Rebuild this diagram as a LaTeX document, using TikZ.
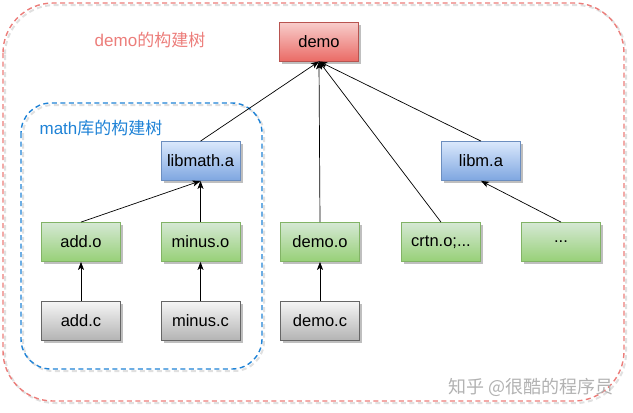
\documentclass[tikz,border=0pt]{standalone}
\usepackage{fontspec}
\setmainfont{Liberation Sans}
\newfontfamily\cjk{Noto Sans CJK SC}
\usetikzlibrary{arrows.meta,shadows}
\definecolor{redfillT}{HTML}{F8CECC}
\definecolor{redfillB}{HTML}{EA6B66}
\definecolor{redline}{HTML}{B85450}
\definecolor{bluefillT}{HTML}{DAE8FC}
\definecolor{bluefillB}{HTML}{7EA6E0}
\definecolor{blueline}{HTML}{6C8EBF}
\definecolor{greenfillT}{HTML}{D5E8D4}
\definecolor{greenfillB}{HTML}{97D077}
\definecolor{greenline}{HTML}{82B366}
\definecolor{grayfillT}{HTML}{F5F5F5}
\definecolor{grayfillB}{HTML}{B3B3B3}
\definecolor{grayline}{HTML}{666666}
\definecolor{reddash}{HTML}{EC7D7A}
\definecolor{bluedash}{HTML}{1E82D6}
\tikzset{
  box/.style={draw, line width=0.8pt, minimum width=79pt, minimum height=39pt, inner sep=0pt,
    font=\fontsize{16.5}{19}\selectfont,
    drop shadow={shadow xshift=2.5pt, shadow yshift=-2.5pt, opacity=0.25, fill=black}},
  redbox/.style={box, draw=redline, top color=redfillT, bottom color=redfillB},
  bluebox/.style={box, draw=blueline, top color=bluefillT, bottom color=bluefillB},
  greenbox/.style={box, draw=greenline, top color=greenfillT, bottom color=greenfillB},
  graybox/.style={box, draw=grayline, top color=grayfillT, bottom color=grayfillB},
  conn/.style={line width=0.7pt, -{Stealth[length=8pt, width=6pt, inset=2pt]}},
  grp/.style={dash pattern=on 5pt off 3.5pt, line width=1.4pt},
  grpshadow/.style={grp, draw=black, opacity=0.12, line width=2pt},
  grplabel/.style={font=\fontsize{17}{20}\selectfont, inner sep=0pt}
}
\begin{document}
\begin{tikzpicture}[x=1pt, y=-1pt]
\useasboundingbox (0,0) rectangle (633,413);
\draw[grpshadow, rounded corners=50pt] (5,5) rectangle (626,403);
\draw[grp, draw=reddash, rounded corners=50pt] (3,3) rectangle (624,401);
\draw[grpshadow, rounded corners=30pt] (23,105) rectangle (264,371);
\draw[grp, draw=bluedash, rounded corners=30pt] (21,103) rectangle (262,369);
\node[grplabel, text=reddash] (lblDemo) at (150,40) {demo\cjk 的构建树};
\node[grplabel, text=bluedash] (lblMath) at (101,128) {math\cjk 库的构建树};

\node[redbox] (demo) at (319,41.5) {demo};
\node[bluebox] (libmath) at (200.5,161) {libmath.a};
\node[bluebox] (libm) at (481,161) {libm.a};

\node[greenbox] (addo) at (81,242) {add.o};
\node[greenbox] (minuso) at (200.5,242) {minus.o};
\node[greenbox] (demoo) at (320,242) {demo.o};
\node[greenbox] (crtno) at (441,242) {crtn.o;...};
\node[greenbox] (dots) at (561,242) {...};

\node[graybox] (addc) at (81,321) {add.c};
\node[graybox] (minusc) at (200.5,321) {minus.c};
\node[graybox] (democ) at (320,321) {demo.c};

\draw[conn] (addc.north) -- (addo.south);
\draw[conn] (minusc.north) -- (minuso.south);
\draw[conn] (democ.north) -- (demoo.south);
\draw[conn] (addo.north) -- (libmath.south);
\draw[conn] (minuso.north) -- (libmath.south);
\draw[conn] (dots.north) -- (libm.south);
\draw[conn] (libmath.north) -- (demo.south);
\draw[conn] (demoo.north) -- (demo.south);
\draw[conn] (crtno.north) -- (demo.south);
\draw[conn] (libm.north) -- (demo.south);

\node[font=\cjk\fontsize{18}{20}\selectfont, text=gray!60, inner sep=0pt] (wm) at (531,387) {知乎 @很酷的程序员};
\end{tikzpicture}
\end{document}
